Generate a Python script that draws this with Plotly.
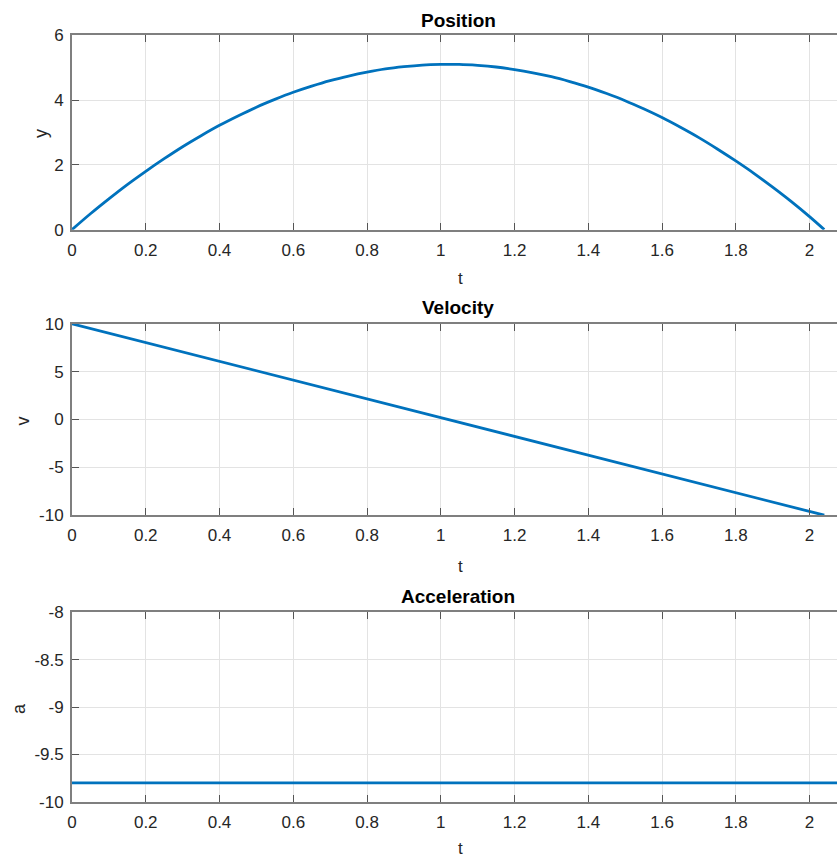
import plotly.graph_objects as go

# ---- data ----
t_pos = [0.0, 0.05, 0.1, 0.15, 0.2, 0.25, 0.3, 0.35, 0.4, 0.45, 0.5, 0.55, 0.6, 0.65,
         0.7, 0.75, 0.8, 0.85, 0.9, 0.95, 1.0, 1.05, 1.1, 1.15, 1.2, 1.25, 1.3, 1.35,
         1.4, 1.45, 1.5, 1.55, 1.6, 1.65, 1.7, 1.75, 1.8, 1.85, 1.9, 1.95, 2.0, 2.04]
y_pos = [0.0, 0.49, 0.95, 1.39, 1.80, 2.19, 2.56, 2.90, 3.22, 3.51, 3.78, 4.02, 4.24, 4.43,
         4.60, 4.74, 4.86, 4.96, 5.03, 5.08, 5.10, 5.10, 5.07, 5.02, 4.94, 4.84, 4.72, 4.57,
         4.40, 4.20, 3.98, 3.73, 3.46, 3.16, 2.84, 2.49, 2.12, 1.73, 1.31, 0.87, 0.40, 0.0]

t_vel = [0.0, 2.04]
v_vel = [10.0, -10.0]

t_acc = [0.0, 2.1]
a_acc = [-9.8, -9.8]

x_ticks = [0, 0.2, 0.4, 0.6, 0.8, 1, 1.2, 1.4, 1.6, 1.8, 2]
x_ticklabels = ["0", "0.2", "0.4", "0.6", "0.8", "1", "1.2", "1.4", "1.6", "1.8", "2"]
pos_ticks = [0, 2, 4, 6]
vel_ticks = [-10, -5, 0, 5, 10]
acc_ticks = [-10, -9.5, -9, -8.5, -8]
acc_ticklabels = ["-10", "-9.5", "-9", "-8.5", "-8"]

titles = ["Position", "Velocity", "Acceleration"]
ylabels = ["y", "v", "a"]

# ---- layout ----
W, H = 837, 880
L = 71.5
LINE = "#0072BD"
TXT = "#262626"
AX = "#7f7f7f"
GRID = "#e3e3e3"
FONT = "Liberation Sans, Arial, Helvetica, sans-serif"
TICKSIZE = 17


def vy(r):
    # target pixel row -> layout pixel row (compensates the observed vertical offset/scale)
    return (r - 8.8) / 0.9765


# plot areas in target pixels (top, bottom)
areas = [(35, 229), (323, 514), (611, 800)]

fig = go.Figure()
fig.add_trace(go.Scatter(x=t_pos, y=y_pos, mode="lines", line=dict(color=LINE, width=2.8, shape="spline"),
                         xaxis="x", yaxis="y", showlegend=False))
fig.add_trace(go.Scatter(x=t_vel, y=v_vel, mode="lines", line=dict(color=LINE, width=2.8),
                         xaxis="x2", yaxis="y2", showlegend=False))
fig.add_trace(go.Scatter(x=t_acc, y=a_acc, mode="lines", line=dict(color=LINE, width=2.8),
                         xaxis="x3", yaxis="y3", showlegend=False))

xmax = (W - L) / 369.0


def xaxis(anchor):
    return dict(range=[0, xmax], tickvals=x_ticks, ticktext=x_ticklabels, anchor=anchor,
                domain=[0, 1], showline=True, linecolor=AX, linewidth=1.8, mirror="ticks",
                ticks="inside", ticklen=7, tickcolor="#555555", tickwidth=1.2,
                showgrid=True, gridcolor=GRID, gridwidth=1, zeroline=False,
                tickfont=dict(family=FONT, size=TICKSIZE, color=TXT), ticklabelstandoff=4)


def yaxis(anchor, rng, vals, texts, area):
    top, bot = vy(area[0]), vy(area[1])
    return dict(range=rng, tickvals=vals, ticktext=texts, anchor=anchor,
                domain=[1 - bot / H, 1 - top / H], showline=True, linecolor=AX, linewidth=1.8,
                mirror=False, ticks="inside", ticklen=7, tickcolor="#555555", tickwidth=1.2,
                showgrid=True, gridcolor=GRID, gridwidth=1, zeroline=False,
                tickfont=dict(family=FONT, size=TICKSIZE, color=TXT), ticklabelstandoff=3)


fig.update_layout(
    width=W, height=H,
    margin=dict(l=L, r=0, t=0, b=0),
    paper_bgcolor="white", plot_bgcolor="white",
    xaxis=xaxis("y"), xaxis2=xaxis("y2"), xaxis3=xaxis("y3"),
    yaxis=yaxis("x", [0, 6], pos_ticks, [str(v) for v in pos_ticks], areas[0]),
    yaxis2=yaxis("x2", [-10, 10], vel_ticks, [str(v) for v in vel_ticks], areas[1]),
    yaxis3=yaxis("x3", [-10, -8], acc_ticks, acc_ticklabels, areas[2]),
)


def px_x(p):
    return (p - L) / (W - L)


def px_y(p):
    return 1 - vy(p) / H


title_y = [20, 307, 595]
t_y = [278, 565, 847]
ylab = [(41, 133), (22, 420), (18, 707)]
ann = []
for i in range(3):
    ann.append(dict(text="<b>%s</b>" % titles[i], x=px_x(458), y=px_y(title_y[i]), xref="paper",
                    yref="paper", showarrow=False, xanchor="center", yanchor="middle",
                    font=dict(family=FONT, size=19, color="black")))
    ann.append(dict(text="t", x=px_x(460), y=px_y(t_y[i]), xref="paper", yref="paper",
                    showarrow=False, xanchor="center", yanchor="middle",
                    font=dict(family=FONT, size=17, color=TXT)))
    ann.append(dict(text=ylabels[i], x=px_x(ylab[i][0]), y=px_y(ylab[i][1]), xref="paper",
                    yref="paper", showarrow=False, xanchor="center", yanchor="middle",
                    textangle=-90, font=dict(family=FONT, size=18, color=TXT)))
fig.update_layout(annotations=ann)

post = ("document.documentElement.style.margin='0';document.body.style.margin='0';"
        "document.body.style.overflow='hidden';"
        "var d=document.querySelector('.plotly-graph-div');"
        "d.style.position='fixed';d.style.top='0px';d.style.left='0px';")

fig.write_html("out.html", config={"displayModeBar": False}, post_script=post)
